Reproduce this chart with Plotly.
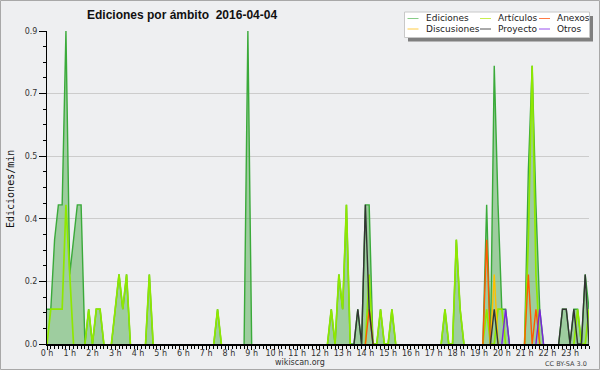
import plotly.graph_objects as go

# 10-minute bins, 0 h .. 23 h 50 (144 bins); values are edits per minute
BINS = list(range(144))

EDICIONES = [
    0.1, 0.1, 0.3, 0.4, 0.4, 0.9, 0.2, 0.3, 0.4, 0.4, 0, 0.1,
    0, 0.1, 0.1, 0, 0, 0, 0.1, 0.2, 0.1, 0.2, 0, 0,
    0, 0, 0, 0.2, 0, 0, 0, 0, 0, 0, 0, 0,
    0, 0, 0, 0, 0, 0, 0, 0, 0, 0.1, 0, 0,
    0, 0, 0, 0, 0, 0.9, 0, 0, 0, 0, 0, 0,
    0, 0, 0, 0, 0, 0, 0, 0, 0, 0, 0, 0,
    0, 0, 0, 0.1, 0, 0.2, 0.1, 0.4, 0, 0, 0.1, 0,
    0.4, 0.4, 0, 0, 0.1, 0, 0, 0.1, 0, 0, 0, 0,
    0, 0, 0, 0, 0, 0, 0, 0, 0, 0.1, 0, 0,
    0.3, 0.1, 0, 0, 0, 0, 0, 0, 0.4, 0, 0.8, 0.4,
    0.1, 0.1, 0, 0, 0, 0, 0, 0.5, 0.8, 0.4, 0.1, 0,
    0, 0, 0, 0, 0.1, 0.1, 0, 0.1, 0.1, 0, 0.2, 0.1,
]

ARTICULOS = [
    0, 0.1, 0.1, 0.1, 0.1, 0.4, 0.2, 0, 0, 0, 0, 0.1,
    0, 0.1, 0.1, 0, 0, 0, 0.1, 0.2, 0.1, 0.2, 0, 0,
    0, 0, 0, 0.2, 0, 0, 0, 0, 0, 0, 0, 0,
    0, 0, 0, 0, 0, 0, 0, 0, 0, 0.1, 0, 0,
    0, 0, 0, 0, 0, 0, 0, 0, 0, 0, 0, 0,
    0, 0, 0, 0, 0, 0, 0, 0, 0, 0, 0, 0,
    0, 0, 0, 0.1, 0, 0.2, 0.1, 0.4, 0, 0, 0, 0,
    0, 0.2, 0, 0, 0.1, 0, 0, 0.1, 0, 0, 0, 0,
    0, 0, 0, 0, 0, 0, 0, 0, 0, 0.1, 0, 0,
    0.3, 0.1, 0, 0, 0, 0, 0, 0, 0.1, 0, 0, 0.1,
    0.1, 0, 0, 0, 0, 0, 0, 0.3, 0.8, 0.2, 0, 0,
    0, 0, 0, 0, 0, 0, 0, 0, 0.1, 0, 0, 0.1,
]

ANEXOS = [
    0, 0, 0, 0, 0, 0, 0, 0, 0, 0, 0, 0,
    0, 0, 0, 0, 0, 0, 0, 0, 0, 0, 0, 0,
    0, 0, 0, 0, 0, 0, 0, 0, 0, 0, 0, 0,
    0, 0, 0, 0, 0, 0, 0, 0, 0, 0, 0, 0,
    0, 0, 0, 0, 0, 0, 0, 0, 0, 0, 0, 0,
    0, 0, 0, 0, 0, 0, 0, 0, 0, 0, 0, 0,
    0, 0, 0, 0, 0, 0, 0, 0, 0, 0, 0, 0,
    0, 0.1, 0, 0, 0, 0, 0, 0, 0, 0, 0, 0,
    0, 0, 0, 0, 0, 0, 0, 0, 0, 0, 0, 0,
    0, 0, 0, 0, 0, 0, 0, 0, 0.3, 0, 0, 0,
    0, 0, 0, 0, 0, 0, 0, 0.2, 0, 0.1, 0, 0,
    0, 0, 0, 0, 0, 0, 0, 0, 0, 0, 0, 0,
]

DISCUSIONES = [
    0, 0, 0, 0, 0, 0, 0, 0, 0, 0, 0, 0,
    0, 0, 0, 0, 0, 0, 0, 0, 0, 0, 0, 0,
    0, 0, 0, 0, 0, 0, 0, 0, 0, 0, 0, 0,
    0, 0, 0, 0, 0, 0, 0, 0, 0, 0, 0, 0,
    0, 0, 0, 0, 0, 0, 0, 0, 0, 0, 0, 0,
    0, 0, 0, 0, 0, 0, 0, 0, 0, 0, 0, 0,
    0, 0, 0, 0, 0, 0, 0, 0, 0, 0, 0, 0,
    0, 0, 0, 0, 0, 0, 0, 0, 0, 0, 0, 0,
    0, 0, 0, 0, 0, 0, 0, 0, 0, 0, 0, 0,
    0, 0, 0, 0, 0, 0, 0, 0, 0, 0, 0.2, 0,
    0, 0, 0, 0, 0, 0, 0, 0, 0, 0, 0, 0,
    0, 0, 0, 0, 0, 0, 0, 0, 0, 0, 0, 0,
]

PROYECTO = [
    0, 0, 0, 0, 0, 0, 0, 0, 0, 0, 0, 0,
    0, 0, 0, 0, 0, 0, 0, 0, 0, 0, 0, 0,
    0, 0, 0, 0, 0, 0, 0, 0, 0, 0, 0, 0,
    0, 0, 0, 0, 0, 0, 0, 0, 0, 0, 0, 0,
    0, 0, 0, 0, 0, 0, 0, 0, 0, 0, 0, 0,
    0, 0, 0, 0, 0, 0, 0, 0, 0, 0, 0, 0,
    0, 0, 0, 0, 0, 0, 0, 0, 0, 0, 0.1, 0,
    0.4, 0.1, 0, 0, 0, 0, 0, 0, 0, 0, 0, 0,
    0, 0, 0, 0, 0, 0, 0, 0, 0, 0, 0, 0,
    0, 0, 0, 0, 0, 0, 0, 0, 0, 0, 0.1, 0,
    0, 0, 0, 0, 0, 0, 0, 0, 0, 0, 0, 0,
    0, 0, 0, 0, 0.1, 0.1, 0, 0.1, 0, 0, 0.2, 0,
]

OTROS = [
    0, 0, 0, 0, 0, 0, 0, 0, 0, 0, 0, 0,
    0, 0, 0, 0, 0, 0, 0, 0, 0, 0, 0, 0,
    0, 0, 0, 0, 0, 0, 0, 0, 0, 0, 0, 0,
    0, 0, 0, 0, 0, 0, 0, 0, 0, 0, 0, 0,
    0, 0, 0, 0, 0, 0, 0, 0, 0, 0, 0, 0,
    0, 0, 0, 0, 0, 0, 0, 0, 0, 0, 0, 0,
    0, 0, 0, 0, 0, 0, 0, 0, 0, 0, 0, 0,
    0, 0, 0, 0, 0, 0, 0, 0, 0, 0, 0, 0,
    0, 0, 0, 0, 0, 0, 0, 0, 0, 0, 0, 0,
    0, 0, 0, 0, 0, 0, 0, 0, 0, 0, 0, 0,
    0, 0.1, 0, 0, 0, 0, 0, 0, 0, 0, 0.1, 0,
    0, 0, 0, 0, 0, 0, 0, 0, 0, 0, 0, 0,
]

HOUR_TICKS = [0, 6, 12, 18, 24, 30, 36, 42, 48, 54, 60, 66,
              72, 78, 84, 90, 96, 102, 108, 114, 120, 126, 132, 138]
HOUR_LABELS = ["0 h", "1 h", "2 h", "3 h", "4 h", "5 h", "6 h", "7 h",
               "8 h", "9 h", "10 h", "11 h", "12 h", "13 h", "14 h", "15 h",
               "16 h", "17 h", "18 h", "19 h", "20 h", "21 h", "22 h", "23 h"]
Y_TICKS = [0, 0.18, 0.36, 0.54, 0.72, 0.9]
Y_LABELS = ["0.0", "0.2", "0.4", "0.5", "0.7", "0.9"]

TITLE = "Ediciones por ámbito\u00a0\u00a02016-04-04"

BG = "#eeeff1"
W, H = 600, 370
ML, MR, MT, MB = 47, 11, 31, 26
PW, PH = W - ML - MR, H - MT - MB


def px(x):
    return (x - ML) / PW


def py(y):
    return (H - MB - y) / PH


def hide_flat_zero(vals):
    # drop the long flat stretches at zero (they would paint over the black axis)
    out = []
    n = len(vals)
    for i, v in enumerate(vals):
        near = (v != 0 or (i > 0 and vals[i - 1] != 0)
                or (i < n - 1 and vals[i + 1] != 0))
        out.append(v if near else None)
    return out


fig = go.Figure()

fig.add_trace(go.Scatter(
    x=BINS, y=hide_flat_zero(EDICIONES), mode="lines", name="Ediciones",
    line=dict(color="#3aaa3a", width=1.4), connectgaps=False,
    fill="tozeroy", fillcolor="rgba(60,165,60,0.45)", showlegend=False))

series = [
    ("Artículos", ARTICULOS, "#8fe800", 1.7),
    ("Discusiones", DISCUSIONES, "#ffc000", 1.4),
    ("Anexos", ANEXOS, "#ff5a00", 1.4),
    ("Proyecto", PROYECTO, "#333333", 1.4),
    ("Otros", OTROS, "#7a22e0", 1.4),
]
for name, vals, col, w in series:
    fig.add_trace(go.Scatter(x=BINS, y=hide_flat_zero(vals), mode="lines",
                             name=name, connectgaps=False,
                             line=dict(color=col, width=w), showlegend=False))

shapes = []
annotations = []

# outer border
shapes.append(dict(type="rect", xref="paper", yref="paper",
                   x0=px(0.5), x1=px(599.5), y0=py(369.5), y1=py(0.5),
                   line=dict(color="#a8a8a8", width=1), fillcolor="rgba(0,0,0,0)",
                   layer="above"))

# legend box (shadow + box)
shapes.append(dict(type="rect", xref="paper", yref="paper",
                   x0=px(408), x1=px(593), y0=py(41.5), y1=py(16),
                   line=dict(width=0), fillcolor="#7f7f7f", layer="above"))
shapes.append(dict(type="rect", xref="paper", yref="paper",
                   x0=px(404.5), x1=px(589.5), y0=py(37.5), y1=py(12),
                   line=dict(color="#c8c8c8", width=1), fillcolor="#ffffff",
                   layer="above"))

legend_items = [
    ("Ediciones", "#88cc88", 407.5, 424, 18.5),
    ("Artículos", "#c8ee50", 480, 496, 18.5),
    ("Anexos", "#ff7a45", 539, 555, 18.5),
    ("Discusiones", "#ffcc44", 407.5, 424, 29),
    ("Proyecto", "#555555", 480, 496, 29),
    ("Otros", "#9a50ee", 539, 555, 29),
]
for name, col, lx, tx, ly in legend_items:
    shapes.append(dict(type="line", xref="paper", yref="paper",
                       x0=px(lx), x1=px(lx + 11), y0=py(ly), y1=py(ly),
                       line=dict(color=col, width=1), layer="above"))
    annotations.append(dict(text=name, xref="paper", yref="paper",
                            x=px(tx), y=py(ly), xanchor="left", yanchor="middle",
                            showarrow=False,
                            font=dict(family="DejaVu Sans", size=9, color="#222222")))

# title
annotations.append(dict(text="<b>" + TITLE + "</b>", xref="paper", yref="paper",
                        x=px(85), y=py(15.5), xanchor="left", yanchor="middle",
                        showarrow=False,
                        font=dict(family="Liberation Sans, Arial, sans-serif",
                                  size=12, color="#111111")))
# y axis title
annotations.append(dict(text="Ediciones/min", xref="paper", yref="paper",
                        x=px(10), y=py(189), xanchor="center", yanchor="middle",
                        textangle=-90, showarrow=False,
                        font=dict(family="DejaVu Sans Mono", size=10, color="#111111")))
# footer
annotations.append(dict(text="wikiscan.org", xref="paper", yref="paper",
                        x=px(300), y=py(362), xanchor="center", yanchor="middle",
                        showarrow=False,
                        font=dict(family="DejaVu Sans", size=8, color="#333333")))
annotations.append(dict(text="CC BY-SA 3.0", xref="paper", yref="paper",
                        x=px(589), y=py(363.5), xanchor="right", yanchor="middle",
                        showarrow=False,
                        font=dict(family="DejaVu Sans", size=6.5, color="#444444")))

fig.update_layout(
    width=W, height=H,
    margin=dict(l=ML, r=MR, t=MT, b=MB, pad=0),
    paper_bgcolor=BG, plot_bgcolor=BG,
    showlegend=False,
    shapes=shapes, annotations=annotations,
    xaxis=dict(range=[0, 143], tickmode="array", tickvals=HOUR_TICKS,
               ticktext=HOUR_LABELS, ticks="outside", ticklen=4, tickwidth=1,
               tickcolor="#000000", showline=True, linecolor="#000000",
               linewidth=1.5, showgrid=False, zeroline=False,
               ticklabelstandoff=-3,
               tickfont=dict(family="DejaVu Sans", size=8, color="#333333"),
               minor=dict(tickmode="array", tickvals=BINS, ticks="outside",
                          ticklen=3, tickwidth=1, tickcolor="#000000",
                          showgrid=False),
               fixedrange=True),
    yaxis=dict(range=[0, 0.9], tickmode="array", tickvals=Y_TICKS,
               ticktext=Y_LABELS, ticks="outside", ticklen=7, tickwidth=1,
               tickcolor="#000000", showline=True, linecolor="#000000",
               linewidth=1, showgrid=True, gridcolor="#cccccc", gridwidth=1,
               zeroline=False,
               tickfont=dict(family="DejaVu Sans", size=8, color="#333333"),
               minor=dict(tickmode="array",
                          tickvals=[0.045, 0.09, 0.135, 0.225, 0.27, 0.315,
                                    0.405, 0.45, 0.495, 0.585, 0.63, 0.675,
                                    0.765, 0.81, 0.855],
                          ticks="outside", ticklen=3, tickwidth=1,
                          tickcolor="#000000", showgrid=False),
               fixedrange=True),
)

fig.write_html("out.html",
               config={"displayModeBar": False, "staticPlot": True},
               post_script="document.body.style.margin='0px';"
                           "document.body.style.padding='0px';"
                           "document.body.style.overflow='hidden';")
